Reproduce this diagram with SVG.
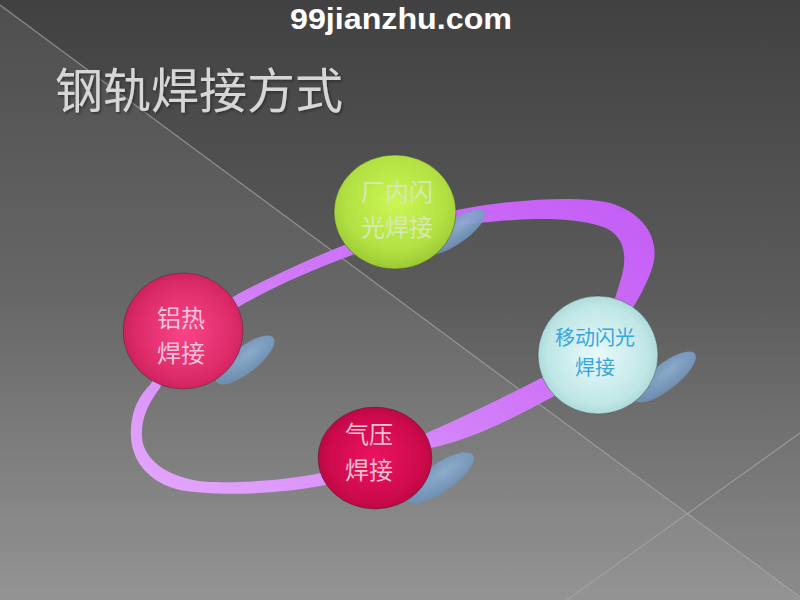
<svg xmlns="http://www.w3.org/2000/svg" width="800" height="600" viewBox="0 0 800 600">
  <defs>
    <linearGradient id="bg" x1="0" y1="0" x2="0" y2="1">
      <stop offset="0" stop-color="#414141"/>
      <stop offset="0.5" stop-color="#5c5c5c"/>
      <stop offset="1" stop-color="#8c8c8c"/>
    </linearGradient>
    <linearGradient id="ringGrad" x1="1" y1="0" x2="0" y2="1">
      <stop offset="0" stop-color="#c45cf6"/>
      <stop offset="0.5" stop-color="#d07af8"/>
      <stop offset="1" stop-color="#e4a8fc"/>
    </linearGradient>
    <radialGradient id="shadowGrad" cx="0.6" cy="0.4" r="0.7">
      <stop offset="0" stop-color="#8eb2d6"/>
      <stop offset="1" stop-color="#6a8cb2"/>
    </radialGradient>
    <radialGradient id="gGreen" cx="0.5" cy="0.42" r="0.6">
      <stop offset="0" stop-color="#ccf654"/>
      <stop offset="0.7" stop-color="#b2e042"/>
      <stop offset="1" stop-color="#98c632"/>
    </radialGradient>
    <radialGradient id="gPink" cx="0.52" cy="0.5" r="0.6">
      <stop offset="0" stop-color="#fa4488"/>
      <stop offset="0.7" stop-color="#dc2a68"/>
      <stop offset="1" stop-color="#bc1c54"/>
    </radialGradient>
    <radialGradient id="gCyan" cx="0.5" cy="0.5" r="0.6">
      <stop offset="0" stop-color="#e8fafa"/>
      <stop offset="0.7" stop-color="#c0e6e6"/>
      <stop offset="1" stop-color="#98cccc"/>
    </radialGradient>
    <radialGradient id="gRed" cx="0.5" cy="0.5" r="0.6">
      <stop offset="0" stop-color="#ec1260"/>
      <stop offset="0.7" stop-color="#cc0a4c"/>
      <stop offset="1" stop-color="#a8053c"/>
    </radialGradient>
    <filter id="titleShadow" x="-5%" y="-20%" width="110%" height="140%">
      <feDropShadow dx="1.5" dy="1.5" stdDeviation="0.8" flood-color="#202020" flood-opacity="0.6"/>
    </filter>
  </defs>
  <style>
    .sphere { stroke: #2a2a2a; stroke-width: 0.8; stroke-opacity: 0.5; }
    .shadow { fill: url(#shadowGrad); opacity: 0.9; }
    .lbl { font-family: "Noto Sans CJK SC", "Liberation Sans", sans-serif; text-anchor: middle; }
    .bgline { stroke: #a8a8a8; stroke-width: 1.2; stroke-opacity: 0.7; fill: none; }
  </style>

  <!-- background -->
  <rect x="0" y="0" width="800" height="600" fill="url(#bg)"/>
  <polygon points="0,5 800,597 800,600 0,600" fill="#ffffff" fill-opacity="0.07"/>
  <line class="bgline" x1="0" y1="5" x2="800" y2="597"/>
  <line class="bgline" x1="800" y1="433" x2="567" y2="600"/>

  <!-- watermark -->
  <text x="401" y="29" font-family="Liberation Sans, Arial, sans-serif" font-weight="bold" font-size="30" fill="#ffffff" text-anchor="middle" textLength="222" lengthAdjust="spacingAndGlyphs">99jianzhu.com</text>

  <!-- title -->
  <text x="55" y="108" font-family="Noto Sans CJK SC, sans-serif" font-size="48" fill="#d6d6d6" filter="url(#titleShadow)">钢轨焊接方式</text>

  <!-- ring -->
  <g id="connectors">
    <path id="ring" fill="url(#ringGrad)" fill-rule="evenodd" d="M 131,437 C 130,410 140,395 150,385 C 175,340 210,310 238,294 C 300,262 380,226 457,210 C 520,198 580,196 610,203 C 645,213 660,240 653,265 C 645,295 610,350 560,393 C 510,420 470,440 430,448 C 400,460 360,478 320,486 C 270,495 215,496 180,490 C 150,483 132,462 131,437 Z M 160,388 C 147,405 141,420 142,437 C 143,460 170,480 210,482 C 260,483 300,478 330,471 C 380,456 470,415 545,376 C 590,350 610,320 620,282 C 630,252 622,232 600,226 C 570,217 530,217 460,225 C 380,240 300,273 245,303 C 200,330 170,360 160,388 Z"/>
  </g>

  <!-- shadows -->
  <g id="shadows">
    <ellipse class="shadow" cx="455" cy="232" rx="36" ry="12" transform="rotate(-35 455 232)"/>
    <ellipse class="shadow" cx="245" cy="360" rx="36" ry="13" transform="rotate(-38 245 360)"/>
    <ellipse class="shadow" cx="665" cy="377" rx="38" ry="13" transform="rotate(-38 665 377)"/>
    <ellipse class="shadow" cx="440" cy="478" rx="40" ry="14" transform="rotate(-35 440 478)"/>
  </g>

  <g id="node-factory-flash">
    <ellipse class="sphere" cx="395" cy="212" rx="61" ry="57" fill="url(#gGreen)"/>
    <text class="lbl" font-size="24" fill="#d6e8b4"><tspan x="397" y="201">厂内闪</tspan><tspan x="397" y="236">光焊接</tspan></text>
  </g>

  <g id="node-thermite">
    <ellipse class="sphere" cx="183" cy="331" rx="60" ry="58" fill="url(#gPink)"/>
    <text class="lbl" font-size="24" fill="#f7c4da"><tspan x="181" y="327">铝热</tspan><tspan x="181" y="362">焊接</tspan></text>
  </g>

  <g id="node-mobile-flash">
    <ellipse class="sphere" cx="598" cy="355" rx="60" ry="59" fill="url(#gCyan)"/>
    <text class="lbl" font-size="20" fill="#36a6de"><tspan x="595" y="345">移动闪光</tspan><tspan x="595" y="375">焊接</tspan></text>
  </g>

  <g id="node-gas-pressure">
    <ellipse class="sphere" cx="375" cy="458" rx="57" ry="51" fill="url(#gRed)"/>
    <text class="lbl" font-size="24" fill="#f6c2d2"><tspan x="369" y="443">气压</tspan><tspan x="369" y="479">焊接</tspan></text>
  </g>
</svg>
